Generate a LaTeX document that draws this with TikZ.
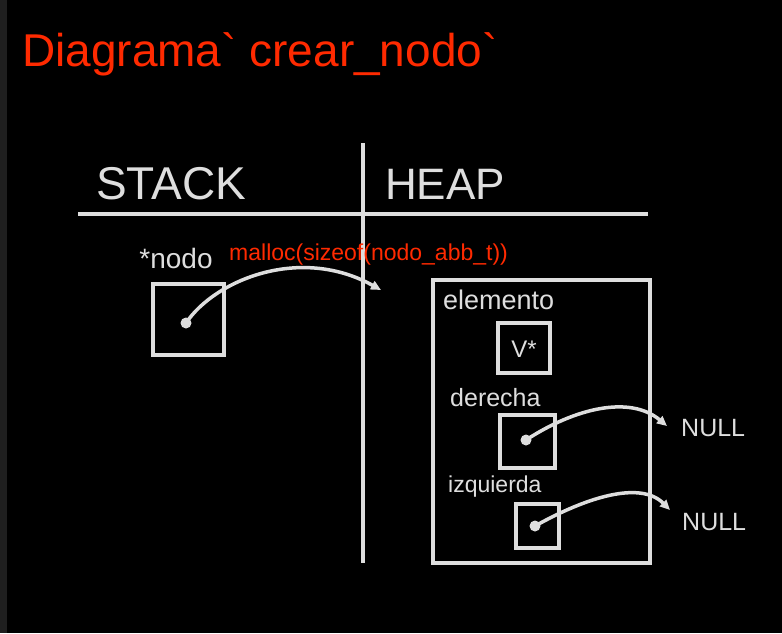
\documentclass[tikz,border=0pt]{standalone}
\usepackage{fontspec}
\setmainfont{Liberation Sans}
\usetikzlibrary{arrows.meta}

\definecolor{chalk}{HTML}{DEDEDE}
\definecolor{marker}{HTML}{FF2A00}

\tikzset{
	cell/.style={draw=chalk, line width=3.5pt, inner sep=0pt},
	lbl/.style={text=chalk, inner sep=0pt},
	redlbl/.style={text=marker, inner sep=0pt},
	ptr/.style={draw=chalk, line width=3.5pt, -{Triangle[length=10pt,width=9pt]}},
}

\begin{document}
\begin{tikzpicture}[x=1pt,y=-1pt]

	\newcommand\Dot[1]{\fill[chalk] (#1) circle (5.5pt);}

	\fill[black] (0,0) rectangle (782,633);
	\fill[black!88!white] (0,0) rectangle (7,633);

\node[redlbl, anchor=west, font=\fontsize{46}{46}\selectfont] at (22,54) (title) {Diagrama\textasciigrave{} crear\_nodo\textasciigrave};

% stack / heap split
\draw[chalk, line width=3.5pt] (78,214) -- (648,214);
\draw[chalk, line width=3.5pt] (363,143) -- (363,563);
\node[lbl, font=\fontsize{46}{46}\selectfont] at (171,184) (stack) {STACK};
\node[lbl, font=\fontsize{44}{44}\selectfont] at (445,184) (heap) {HEAP};

\begin{scope}
	\node[lbl, font=\fontsize{28}{28}\selectfont] at (176,258) (nodolbl) {*nodo};
	\node[redlbl, anchor=west, font=\fontsize{23}{23}\selectfont] at (229,255) (malloc) {malloc(sizeof(nodo\_abb\_t))};
	\node[cell, minimum width=71pt, minimum height=71pt] at (188.5,319.5) (nodo) {};
	\coordinate (p) at (186,323);
	\coordinate (p2) at (381,290);
\end{scope}

\begin{scope}
	\node[cell, minimum width=217pt, minimum height=283pt] at (541.5,421.5) (heapbox) {};
	\node[lbl, anchor=west, font=\fontsize{27}{27}\selectfont] at (443,300) (elem) {elemento};
	\node[cell, minimum width=52pt, minimum height=50pt] at (524,348) (elembox) {};
	\node[lbl, font=\fontsize{24}{24}\selectfont] at (524,349) (v) {V*};

	\node[lbl, anchor=west, font=\fontsize{25}{25}\selectfont] at (450,398) (der) {derecha};
	\node[cell, minimum width=55pt, minimum height=53pt] at (527.5,441.5) (derbox) {};
	\coordinate (p3) at (526,440);
	\node[lbl, anchor=west, font=\fontsize{25}{25}\selectfont] at (681,428) (null1) {NULL};

	\node[lbl, anchor=west, font=\fontsize{23}{23}\selectfont] at (448,487) (izq) {izquierda};
	\node[cell, minimum width=43pt, minimum height=44pt] at (537.5,526) (izqbox) {};
	\coordinate (p4) at (535,526);
	\node[lbl, anchor=west, font=\fontsize{25}{25}\selectfont] at (682,522) (null2) {NULL};
\end{scope}

\Dot{p}
\Dot{p3}
\Dot{p4}

\draw[ptr] (p) .. controls (215,280) and (300,245) .. (p2);
\draw[ptr] (p3) .. controls (575,408) and (630,395) .. ([xshift=-14pt,yshift=2pt]null1.west);
\draw[ptr] (p4) .. controls (585,498) and (640,480) .. ([xshift=-12pt,yshift=12pt]null2.west);

\end{tikzpicture}
\end{document}
